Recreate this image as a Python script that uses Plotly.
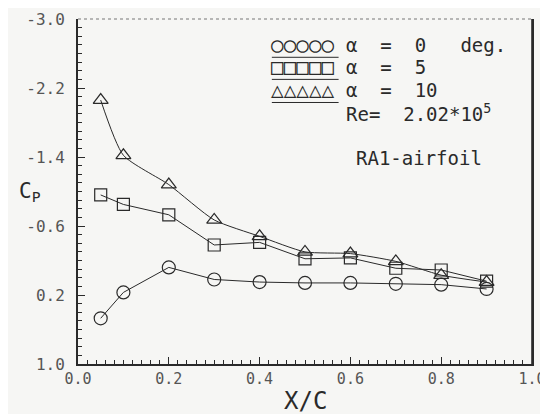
import plotly.graph_objects as go

# ---- data ----
x_c = [0.05, 0.1, 0.2, 0.3, 0.4, 0.5, 0.6, 0.7, 0.8, 0.9]
cp_a0 = [0.47, 0.17, -0.12, 0.02, 0.05, 0.06, 0.06, 0.07, 0.08, 0.13]
cp_a5 = [-0.96, -0.85, -0.73, -0.38, -0.41, -0.22, -0.23, -0.11, -0.09, 0.04]
cp_a10 = [-2.06, -1.42, -1.08, -0.67, -0.48, -0.30, -0.28, -0.19, -0.03, 0.05]

y_tickvals = [-3.0, -2.2, -1.4, -0.6, 0.2, 1.0]
y_ticktext = ["-3.0", "-2.2", "-1.4", "-0.6", "0.2", "1.0"]
x_tickvals = [0.0, 0.2, 0.4, 0.6, 0.8, 1.0]
x_ticktext = ["0.0", "0.2", "0.4", "0.6", "0.8", "1.0"]

legend_rows = ["\u03b1  =  0   deg.", "\u03b1  =  5", "\u03b1  =  10"]
legend_syms = ["\u25cb\u25cb\u25cb\u25cb\u25cb", "\u25a1\u25a1\u25a1\u25a1\u25a1", "\u25b3\u25b3\u25b3\u25b3\u25b3"]

INK = "#2a2a2a"
GRAY = "#555555"
BG = "#f6f6f4"
MONO = "DejaVu Sans Mono"

fig = go.Figure()
fig.add_trace(go.Scatter(x=x_c, y=cp_a0, mode="lines+markers",
                         line=dict(color=INK, width=1),
                         marker=dict(symbol="circle-open", size=13, color=INK, line=dict(width=1.2))))
fig.add_trace(go.Scatter(x=x_c, y=cp_a5, mode="lines+markers",
                         line=dict(color=INK, width=1),
                         marker=dict(symbol="square-open", size=12, color=INK, line=dict(width=1.2))))
fig.add_trace(go.Scatter(x=x_c, y=cp_a10, mode="lines+markers",
                         line=dict(color=INK, width=1, shape="spline", smoothing=0.6),
                         marker=dict(symbol="triangle-up-open", size=13, color=INK, line=dict(width=1.2))))

# the page body adds an 8 px margin, so the figure is sized to the visible area
fig.update_layout(
    width=540, height=406,
    margin=dict(l=70, r=16, t=11, b=50),
    paper_bgcolor=BG, plot_bgcolor=BG,
    showlegend=False,
    font=dict(family=MONO, color=GRAY, size=16),
)
fig.update_xaxes(range=[0, 1], tickvals=x_tickvals, ticktext=x_ticktext,
                 ticks="inside", ticklen=7, tickwidth=1.2, tickcolor=INK,
                 showline=True, linecolor=INK, linewidth=2, mirror=False,
                 showgrid=False, zeroline=False, automargin=False,
                 ticklabeloverflow="allow",
                 minor=dict(dtick=0.02, ticks="inside", ticklen=4, tickcolor=INK, showgrid=False),
                 tickfont=dict(family=MONO, size=15, color=GRAY))
fig.update_yaxes(range=[1.0, -3.0], tickvals=y_tickvals, ticktext=y_ticktext,
                 ticks="inside", ticklen=7, tickwidth=1.2, tickcolor=INK,
                 showline=True, linecolor=INK, linewidth=2, mirror=True,
                 showgrid=False, zeroline=False, automargin=False,
                 minor=dict(dtick=0.1, ticks="inside", ticklen=4, tickcolor=INK, showgrid=False),
                 tickfont=dict(family=MONO, size=16, color=GRAY), ticklabelstandoff=8)

# frame: faint dotted top, solid right
fig.add_shape(type="line", xref="paper", yref="paper", x0=0, x1=1, y0=1, y1=1,
              line=dict(color="#777777", width=1.2, dash="dot"))
fig.add_shape(type="line", xref="paper", yref="paper", x0=1, x1=1, y0=0, y1=1,
              line=dict(color=INK, width=1.6))

# axis titles
fig.add_annotation(text="X/C", xref="paper", yref="paper", x=0.5, y=-0.108,
                   showarrow=False, font=dict(family=MONO, size=24, color=INK), yanchor="middle")
fig.add_annotation(text="C<sub>P</sub>", xref="paper", yref="paper", x=-0.105, y=0.5,
                   showarrow=False, font=dict(family=MONO, size=21, color=INK), xanchor="center")

# legend block
row_y = [0.925, 0.861, 0.794]
for sym, txt, yy in zip(legend_syms, legend_rows, row_y):
    fig.add_annotation(text=sym, xref="paper", yref="paper", x=0.42, y=yy, xanchor="left",
                       yanchor="middle", showarrow=False, font=dict(family=MONO, size=21, color=INK))
    fig.add_annotation(text=txt, xref="paper", yref="paper", x=0.587, y=yy, xanchor="left",
                       yanchor="middle", showarrow=False, font=dict(family=MONO, size=19, color=INK))
    fig.add_shape(type="line", xref="paper", yref="paper", x0=0.427, x1=0.574,
                  y0=yy - 0.036, y1=yy - 0.036, line=dict(color=INK, width=1))
fig.add_annotation(text="Re=  2.02*10<sup>5</sup>", xref="paper", yref="paper", x=0.587, y=0.728,
                   xanchor="left", yanchor="middle", showarrow=False,
                   font=dict(family=MONO, size=19, color=INK))
fig.add_annotation(text="RA1-airfoil", xref="paper", yref="paper", x=0.607, y=0.597,
                   xanchor="left", yanchor="middle", showarrow=False,
                   font=dict(family=MONO, size=19, color=INK))

fig.write_html("out.html")
